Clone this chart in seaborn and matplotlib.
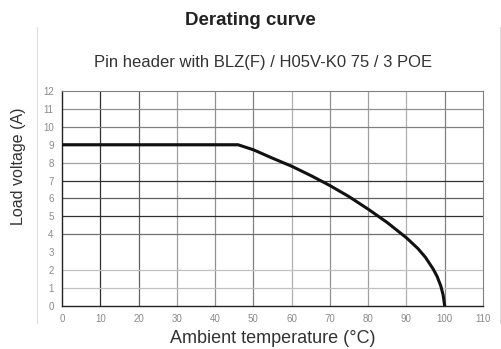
import numpy as np
import pandas as pd
import matplotlib
matplotlib.use("Agg")
import matplotlib.pyplot as plt
import seaborn as sns
from matplotlib.lines import Line2D

sns.set_style("white")
plt.rcParams['font.family'] = ['Liberation Sans', 'DejaVu Sans']

# derating curve
temperature = [0, 46, 50, 55, 60, 65, 70, 75, 80, 85, 90, 93, 95, 97, 98, 99, 99.6, 100]
load = [9.0, 9.0, 8.72, 8.25, 7.8, 7.28, 6.72, 6.1, 5.4, 4.65, 3.8, 3.2, 2.7, 2.05, 1.65, 1.1, 0.6, 0.0]

x_ticks = list(range(0, 111, 10))
y_ticks = list(range(0, 13))

# grid shades, one per line
vgrid_x = [10, 20, 30, 40, 50, 60, 70, 80, 90, 100]
vgrid_col = ['#303030', '#606060', '#a0a0a0', '#909090', '#808080', '#b0b0b0', '#909090', '#a0a0a0', '#b0b0b0', '#808080']
hgrid_y = [1, 2, 4, 5, 6, 7, 8, 10, 11]
hgrid_col = ['#c0c0c0', '#c0c0c0', '#707070', '#303030', '#606060', '#303030', '#a0a0a0', '#808080', '#909090']

df = pd.DataFrame({'temp': temperature, 'load': load})

fig = plt.figure(figsize=(5.02, 3.49), dpi=100)
ax = fig.add_axes([0.1235, 0.124, 0.8385, 0.615])

for xv, c in zip(vgrid_x, vgrid_col):
    ax.axvline(xv, color=c, lw=0.9, zorder=1)
for yv, c in zip(hgrid_y, hgrid_col):
    ax.axhline(yv, color=c, lw=0.9, zorder=1)

sns.lineplot(data=df, x='temp', y='load', ax=ax, color='#111111', lw=2.2,
             sort=False, zorder=3)
ax.axhline(9, xmax=46 / 110, color='#222222', lw=1.6, zorder=2)

ax.set_xlim(0, 110)
ax.set_ylim(0, 12)
ax.set_xticks(x_ticks)
ax.set_yticks(y_ticks)
ax.set_xticks(np.arange(5, 110, 10), minor=True)
ax.set_yticks(np.arange(0.5, 12, 1), minor=True)
ax.tick_params(axis='both', which='major', labelsize=7, labelcolor='#8a8a8a',
               color='#333333', length=4, width=0.8, direction='inout')
ax.tick_params(axis='x', which='minor', length=5, width=0.8, color='#333333', direction='inout')
ax.tick_params(axis='y', which='minor', length=3, width=0.8, color='#333333', direction='in')
ax.tick_params(axis='x', pad=4)
ax.tick_params(axis='y', pad=4)

for side in ['top', 'right']:
    ax.spines[side].set_color('#808080')
    ax.spines[side].set_linewidth(0.8)
for side in ['left', 'bottom']:
    ax.spines[side].set_color('#222222')
    ax.spines[side].set_linewidth(1.0)

ax.set_xlabel('Ambient temperature (°C)', fontsize=13, color='#333333', labelpad=4)
ax.set_ylabel('Load voltage (A)', fontsize=11.5, color='#333333')
ax.yaxis.set_label_coords(-0.0855, 0.651)

fig.text(0.498, 0.942, 'Derating curve', ha='center', va='center',
         fontsize=13.5, fontweight='bold', color='#222222')
fig.text(0.525, 0.82, 'Pin header with BLZ(F) / H05V-K0 75 / 3 POE', ha='center',
         va='center', fontsize=12, color='#333333')

# page border lines
fig.add_artist(Line2D([37 / 502, 37 / 502], [1 - 27 / 349, 1 - 323 / 349],
                      transform=fig.transFigure, color='#dddddd', lw=0.8))
fig.add_artist(Line2D([500 / 502, 500 / 502], [1 - 27 / 349, 1 - 323 / 349],
                      transform=fig.transFigure, color='#dddddd', lw=0.8))

fig.savefig('out.png', dpi=100, facecolor='white')
